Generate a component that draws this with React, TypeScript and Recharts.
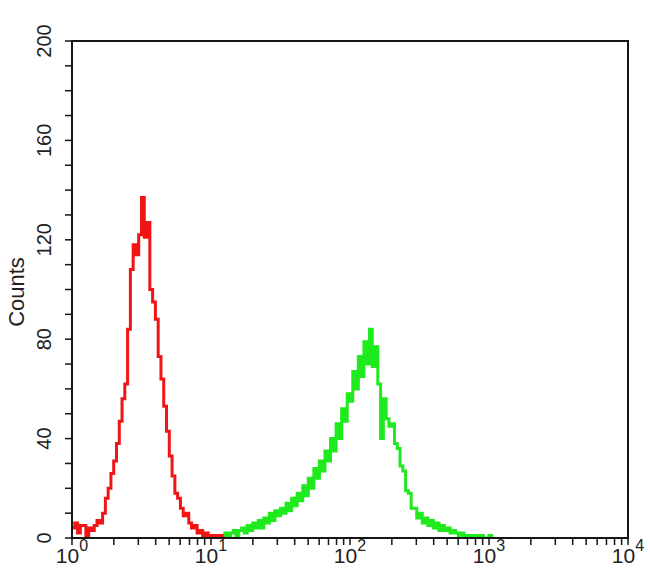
import React from 'react';
import { LineChart, Line, XAxis, YAxis, ReferenceArea } from 'recharts';

// histogram bins: log10 channel width
const BIN = 0.02;

// Red (control) histogram, bins starting at log10 = 0.00
const redStart = 0.0;
const redCounts = [
  4, 6, 2, 5, 5, 1, 4, 3, 5, 7,
  6, 10, 16, 20, 26, 31, 38, 47, 56, 62,
  84, 108, 118, 114, 122, 137, 121, 127, 100, 95,
  88, 73, 64, 53, 43, 33, 25, 18, 16, 12,
  9, 10, 6, 4, 5, 2, 3, 1, 2, 0,
  1, 0, 1, 1, 0, 0,
];

// Green (stained) histogram, bins starting at log10 = 0.94
const greenStart = 0.94;
const greenCounts = [
  1, 0, 0, 1, 0, 1, 1, 0, 2, 1,
  2, 3, 1, 3, 4, 2, 5, 3, 6, 4,
  7, 4, 8, 6, 10, 7, 11, 9, 12, 10,
  14, 11, 16, 13, 18, 15, 21, 17, 24, 20,
  28, 24, 31, 27, 35, 31, 40, 35, 46, 40,
  52, 47, 58, 55, 67, 60, 73, 65, 79, 70,
  84, 69, 77, 62, 40, 56, 48, 45, 46, 38,
  36, 29, 27, 19, 18, 12, 12, 8, 10, 6,
  8, 5, 7, 4, 6, 3, 5, 3, 4, 2,
  3, 2, 1, 2, 1, 1, 0, 1, 1, 0,
  1, 0, 0, 1, 0,
];

const yTicks = [0, 10, 20, 30, 40, 50, 60, 70, 80, 90, 100, 110, 120, 130, 140, 150, 160, 170, 180, 190, 200];
const yLabelEvery = 40;
const decades = [0, 1, 2, 3, 4];
const minorMultipliers = [1, 2, 3, 4, 5, 6, 7, 8, 9];

const xTicks: number[] = [];
decades.forEach((d) => {
  if (d === 4) {
    xTicks.push(4);
  } else {
    minorMultipliers.forEach((m) => xTicks.push(d + Math.log10(m)));
  }
});

const toSeries = (start: number, counts: number[]) =>
  counts.map((c, i) => ({ x: +(start + i * BIN).toFixed(4), y: c }));

const redData = toSeries(redStart, redCounts);
const greenData = toSeries(greenStart, greenCounts);

const FONT = 'Liberation Sans, Arial, Helvetica, sans-serif';
const AXIS = '#161616';

const YTick = (props: any) => {
  const { y, payload } = props;
  const v = payload.value;
  if (v % yLabelEvery !== 0) return <g />;
  return (
    <text
      transform={`translate(44,${y}) rotate(-90)`}
      textAnchor="middle"
      dominantBaseline="central"
      fontSize={20}
      fontFamily={FONT}
      fill="#222"
    >
      {v}
    </text>
  );
};

const XTick = (props: any) => {
  const { x, payload } = props;
  const v = payload.value;
  if (Math.abs(v - Math.round(v)) > 1e-6) return <g />;
  return (
    <text x={x} y={563} textAnchor="middle" fontSize={21} fontFamily={FONT} fill="#222">
      <tspan>10</tspan>
      <tspan dy={-12} fontSize={16}>{Math.round(v)}</tspan>
    </text>
  );
};

const CountsLabel = () => (
  <text
    transform="translate(16,292) rotate(-90)"
    textAnchor="middle"
    dominantBaseline="central"
    fontSize={22}
    fontFamily={FONT}
    fill="#222"
  >
    Counts
  </text>
);

export default function App() {
  return (
    <div style={{ position: 'absolute', left: 0, top: 0, background: '#fff' }}>
      <LineChart
        width={650}
        height={585}
        margin={{ top: 41, right: 22, left: 0, bottom: 0 }}
      >
        <XAxis
          type="number"
          dataKey="x"
          domain={[0, 4]}
          ticks={xTicks}
          interval={0}
          height={47}
          tickSize={7}
          axisLine={{ stroke: AXIS, strokeWidth: 2 }}
          tickLine={{ stroke: AXIS, strokeWidth: 1.5 }}
          tick={<XTick />}
          allowDataOverflow
        />
        <YAxis
          type="number"
          domain={[0, 200]}
          ticks={yTicks}
          interval={0}
          width={72}
          tickSize={7}
          axisLine={{ stroke: AXIS, strokeWidth: 2 }}
          tickLine={{ stroke: AXIS, strokeWidth: 1.5 }}
          tick={<YTick />}
          label={<CountsLabel />}
          allowDataOverflow
        />
        <ReferenceArea x1={0} x2={4} y1={0} y2={200} fill="none" stroke={AXIS} strokeWidth={2} />
        <Line
          data={greenData}
          dataKey="y"
          type="stepAfter"
          stroke="#1eea1e"
          strokeWidth={3}
          dot={false}
          isAnimationActive={false}
        />
        <Line
          data={redData}
          dataKey="y"
          type="stepAfter"
          stroke="#f01414"
          strokeWidth={3}
          dot={false}
          isAnimationActive={false}
        />
      </LineChart>
    </div>
  );
}
